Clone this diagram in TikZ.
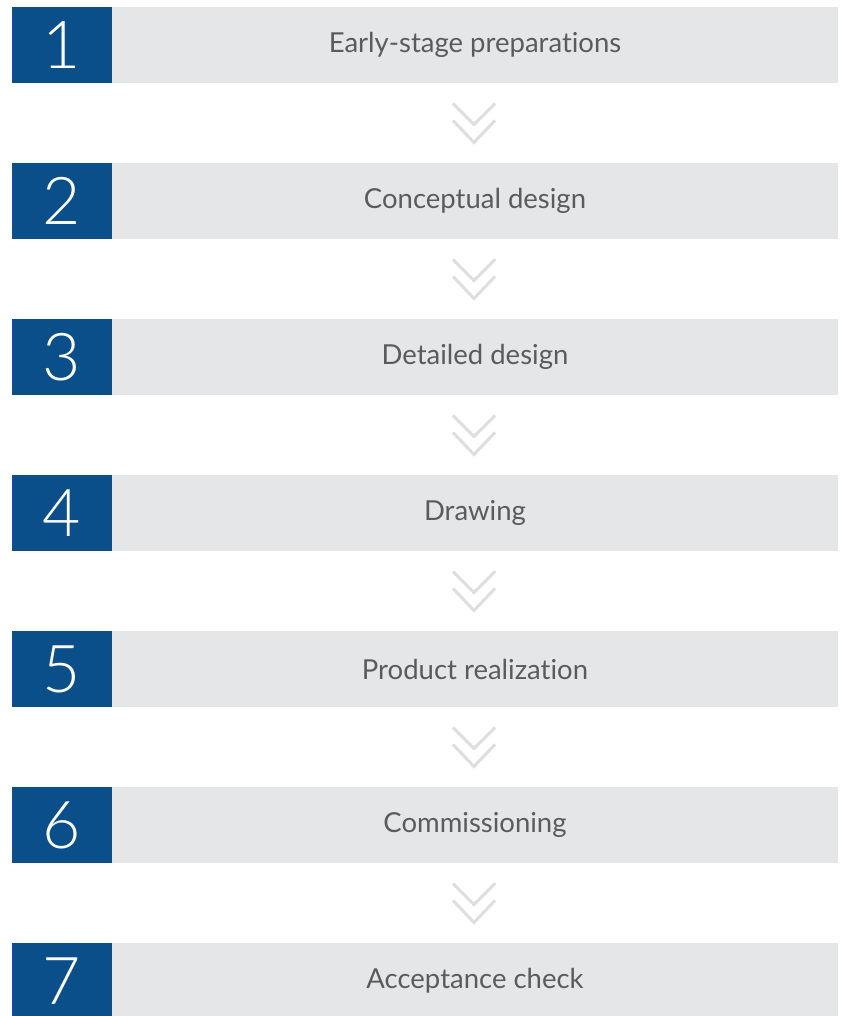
\documentclass[tikz,border=0pt]{standalone}
\usepackage{fontspec}
\setmainfont{Lato}
\newfontfamily\numfont{Lato Light}
\newfontfamily\labfont[Ligatures={NoCommon,NoRare,NoDiscretionary}]{Lato}
\usetikzlibrary{calc}
\definecolor{stepblue}{HTML}{0B4F8A}
\definecolor{bargray}{HTML}{E5E6E7}
\definecolor{labgray}{HTML}{5A5B5D}
\definecolor{chevgray}{HTML}{DDDEE0}
\tikzset{
  numbox/.style={fill=stepblue, minimum width=100pt, minimum height=76pt, inner sep=0pt, outer sep=0pt, text=white, font=\numfont\fontsize{66}{66}\selectfont},
  barbox/.style={fill=bargray, minimum width=726pt, minimum height=76pt, inner sep=0pt, outer sep=0pt, text=labgray, font=\labfont\fontsize{27.5}{27.5}\selectfont},
  chev/.style={draw=chevgray, line width=3pt, line cap=butt, line join=miter}
}
\begin{document}
\begin{tikzpicture}[x=1pt,y=1pt]
\useasboundingbox (0,0) rectangle (841,1016);
\foreach \i/\t in {1/Early-stage preparations,2/Conceptual design,3/Detailed design,4/Drawing,5/Product realization,6/Commissioning,7/Acceptance check}{
  \pgfmathsetmacro{\yc}{1009-156*(\i-1)-38}
  \node[numbox] (n\i) at (62,\yc) {\i};
  \node[barbox] (g\i) at (475,\yc) {\t};
}
\foreach \i [evaluate=\i as \j using int(\i+1)] in {1,...,6}{
  \coordinate (m\i) at ($(g\i.south)!0.5!(g\j.north)+(-1,0)$);
  \draw[chev] ([shift={(-21,19.5)}]m\i) -- ([shift={(0,-1.5)}]m\i) -- ([shift={(21,19.5)}]m\i);
  \draw[chev] ([shift={(-21,2.5)}]m\i) -- ([shift={(0,-19.5)}]m\i) -- ([shift={(21,2.5)}]m\i);
}
\end{tikzpicture}
\end{document}
